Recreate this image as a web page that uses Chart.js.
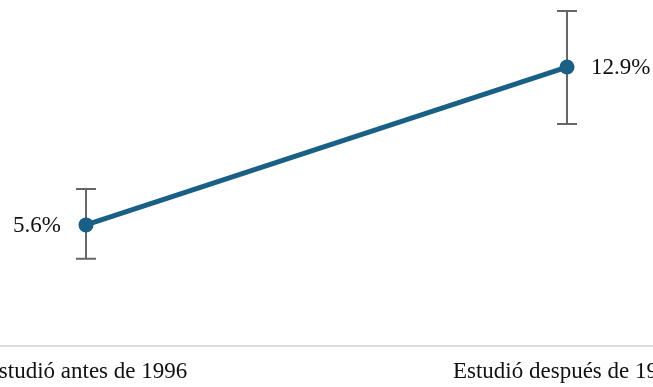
<!DOCTYPE html>
<html>
<head>
<meta charset="utf-8">
<script src="https://cdn.jsdelivr.net/npm/chart.js@4/dist/chart.umd.min.js"></script>
<style>
html,body{margin:0;padding:0;background:#fff;}
#wrap{width:653px;height:387px;}
</style>
</head>
<body>
<div id="wrap"><canvas id="c" width="653" height="387"></canvas></div>
<script>
const categories = ["Estudió antes de 1996", "Estudió después de 1996"];
const values = [5.6, 12.9];
const errLow = [4.03, 10.27];
const errHigh = [7.26, 15.49];
const valueLabels = ["5.6%", "12.9%"];

const FONT = "'Liberation Serif', 'Times New Roman', serif";
const LINE_COLOR = "#1a5f85";

const errorBars = {
  id: 'errorBars',
  beforeDatasetsDraw(chart) {
    const ctx = chart.ctx, xs = chart.scales.x, ys = chart.scales.y;
    ctx.save();
    ctx.strokeStyle = '#666';
    ctx.lineWidth = 2;
    values.forEach((v, i) => {
      const x = xs.getPixelForValue(i);
      const y1 = ys.getPixelForValue(errLow[i]);
      const y2 = ys.getPixelForValue(errHigh[i]);
      ctx.beginPath();
      ctx.moveTo(x, y1); ctx.lineTo(x, y2);
      ctx.moveTo(x - 10, y1); ctx.lineTo(x + 10, y1);
      ctx.moveTo(x - 10, y2); ctx.lineTo(x + 10, y2);
      ctx.stroke();
    });
    ctx.restore();
  }
};

const valueText = {
  id: 'valueText',
  afterDatasetsDraw(chart) {
    const ctx = chart.ctx, xs = chart.scales.x, ys = chart.scales.y;
    ctx.save();
    ctx.font = "23px " + FONT;
    ctx.fillStyle = '#111';
    ctx.textBaseline = 'middle';
    values.forEach((v, i) => {
      const x = xs.getPixelForValue(i);
      const y = ys.getPixelForValue(v);
      if (i === 0) { ctx.textAlign = 'right'; ctx.fillText(valueLabels[i], x - 25, y + 1); }
      else { ctx.textAlign = 'left'; ctx.fillText(valueLabels[i], x + 24, y + 1); }
    });
    ctx.restore();
  }
};

new Chart(document.getElementById('c'), {
  type: 'line',
  data: {
    datasets: [{
      data: values.map((v, i) => ({x: i, y: v})),
      borderColor: LINE_COLOR,
      backgroundColor: LINE_COLOR,
      borderWidth: 5,
      pointRadius: 7.5,
      pointHoverRadius: 7.5,
      pointBorderWidth: 0,
      pointBackgroundColor: LINE_COLOR,
      fill: false,
      tension: 0,
      clip: false
    }]
  },
  options: {
    responsive: false,
    animation: false,
    events: [],
    layout: { padding: 0, autoPadding: false },
    plugins: { legend: { display: false }, tooltip: { enabled: false } },
    scales: {
      x: {
        type: 'linear',
        min: -0.1788,
        max: 1.1788,
        afterBuildTicks(scale) { scale.ticks = [{value: 0}, {value: 1}]; },
        afterFit(scale) { scale.height = 41; scale.paddingLeft = 0; scale.paddingRight = 0; },
        grid: { display: false, drawTicks: false },
        border: { display: true, color: '#dddddd', width: 2 },
        ticks: {
          autoSkip: false,
          maxRotation: 0,
          minRotation: 0,
          padding: 12,
          color: '#111',
          font: { family: FONT, size: 23 },
          callback: (v) => categories[v] !== undefined ? categories[v] : ''
        }
      },
      y: {
        display: false,
        min: 0,
        max: 16
      }
    }
  },
  plugins: [errorBars, valueText]
});
</script>
</body>
</html>
